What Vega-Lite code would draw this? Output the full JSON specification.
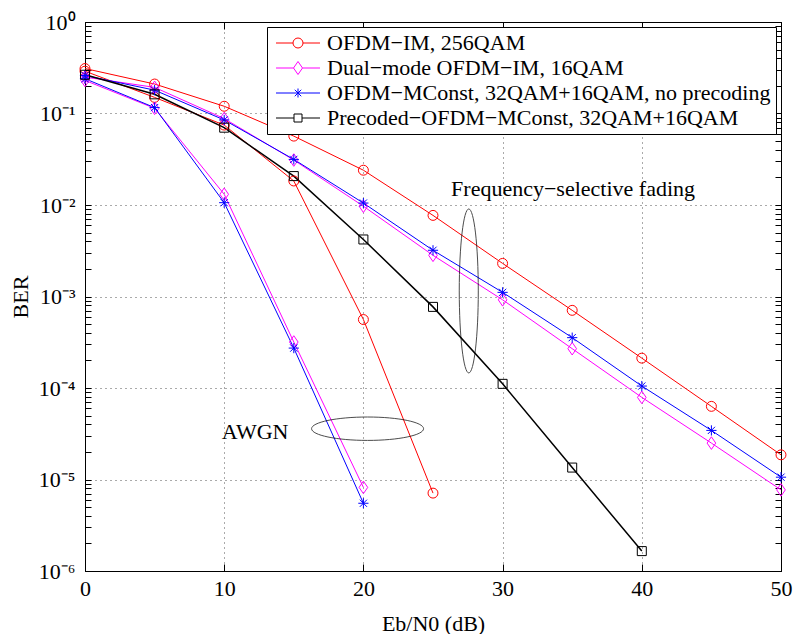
{
  "$schema": "https://vega.github.io/schema/vega-lite/v6.json",
  "width": 696,
  "height": 549,
  "autosize": {"type": "none"},
  "padding": {"left": 85, "top": 22, "right": 16, "bottom": 63},
  "background": "white",
  "config": {
    "view": {"stroke": "black", "strokeWidth": 1},
    "font": "Liberation Serif",
    "axis": {
      "labelFont": "Liberation Serif", "labelFontSize": 22, "labelColor": "black",
      "titleFont": "Liberation Serif", "titleFontSize": 22, "titleFontWeight": "normal", "titleColor": "black",
      "domainColor": "black", "tickColor": "black", "gridColor": "#555", "gridDash": [1, 4], "gridWidth": 1
    },
    "legend": {
      "orient": "top-right", "offset": 5,
      "labelFont": "Liberation Serif", "labelFontSize": 22, "labelColor": "black",
      "fillColor": "white", "strokeColor": "black", "padding": 5, "rowPadding": 3,
      "symbolSize": 100, "symbolOffset": 15, "labelOffset": 18, "symbolStrokeWidth": 1, "labelLimit": 0
    }
  },
  "datasets": {
    "curves": [
      {"series": "OFDM−IM, 256QAM", "channel": "fading", "snr": 0, "ber": 0.31},
      {"series": "OFDM−IM, 256QAM", "channel": "fading", "snr": 5, "ber": 0.21},
      {"series": "OFDM−IM, 256QAM", "channel": "fading", "snr": 10, "ber": 0.12},
      {"series": "OFDM−IM, 256QAM", "channel": "fading", "snr": 15, "ber": 0.0566},
      {"series": "OFDM−IM, 256QAM", "channel": "fading", "snr": 20, "ber": 0.024},
      {"series": "OFDM−IM, 256QAM", "channel": "fading", "snr": 25, "ber": 0.0077},
      {"series": "OFDM−IM, 256QAM", "channel": "fading", "snr": 30, "ber": 0.0023},
      {"series": "OFDM−IM, 256QAM", "channel": "fading", "snr": 35, "ber": 0.000706},
      {"series": "OFDM−IM, 256QAM", "channel": "fading", "snr": 40, "ber": 0.000212},
      {"series": "OFDM−IM, 256QAM", "channel": "fading", "snr": 45, "ber": 0.000063},
      {"series": "OFDM−IM, 256QAM", "channel": "fading", "snr": 50, "ber": 0.0000186},
      {"series": "OFDM−IM, 256QAM", "channel": "awgn", "snr": 0, "ber": 0.29},
      {"series": "OFDM−IM, 256QAM", "channel": "awgn", "snr": 5, "ber": 0.15},
      {"series": "OFDM−IM, 256QAM", "channel": "awgn", "snr": 10, "ber": 0.0747},
      {"series": "OFDM−IM, 256QAM", "channel": "awgn", "snr": 15, "ber": 0.0183},
      {"series": "OFDM−IM, 256QAM", "channel": "awgn", "snr": 20, "ber": 0.00056},
      {"series": "OFDM−IM, 256QAM", "channel": "awgn", "snr": 25, "ber": 0.0000071},
      {"series": "Dual−mode OFDM−IM, 16QAM", "channel": "fading", "snr": 0, "ber": 0.25},
      {"series": "Dual−mode OFDM−IM, 16QAM", "channel": "fading", "snr": 5, "ber": 0.193},
      {"series": "Dual−mode OFDM−IM, 16QAM", "channel": "fading", "snr": 10, "ber": 0.088},
      {"series": "Dual−mode OFDM−IM, 16QAM", "channel": "fading", "snr": 15, "ber": 0.031},
      {"series": "Dual−mode OFDM−IM, 16QAM", "channel": "fading", "snr": 20, "ber": 0.0097},
      {"series": "Dual−mode OFDM−IM, 16QAM", "channel": "fading", "snr": 25, "ber": 0.00282},
      {"series": "Dual−mode OFDM−IM, 16QAM", "channel": "fading", "snr": 30, "ber": 0.00092},
      {"series": "Dual−mode OFDM−IM, 16QAM", "channel": "fading", "snr": 35, "ber": 0.000269},
      {"series": "Dual−mode OFDM−IM, 16QAM", "channel": "fading", "snr": 40, "ber": 0.000079},
      {"series": "Dual−mode OFDM−IM, 16QAM", "channel": "fading", "snr": 45, "ber": 0.000025},
      {"series": "Dual−mode OFDM−IM, 16QAM", "channel": "fading", "snr": 50, "ber": 0.0000077},
      {"series": "Dual−mode OFDM−IM, 16QAM", "channel": "awgn", "snr": 0, "ber": 0.23},
      {"series": "Dual−mode OFDM−IM, 16QAM", "channel": "awgn", "snr": 5, "ber": 0.114},
      {"series": "Dual−mode OFDM−IM, 16QAM", "channel": "awgn", "snr": 10, "ber": 0.0131},
      {"series": "Dual−mode OFDM−IM, 16QAM", "channel": "awgn", "snr": 15, "ber": 0.000318},
      {"series": "Dual−mode OFDM−IM, 16QAM", "channel": "awgn", "snr": 20, "ber": 0.0000082},
      {"series": "OFDM−MConst, 32QAM+16QAM, no precoding", "channel": "fading", "snr": 0, "ber": 0.26},
      {"series": "OFDM−MConst, 32QAM+16QAM, no precoding", "channel": "fading", "snr": 5, "ber": 0.18},
      {"series": "OFDM−MConst, 32QAM+16QAM, no precoding", "channel": "fading", "snr": 10, "ber": 0.085},
      {"series": "OFDM−MConst, 32QAM+16QAM, no precoding", "channel": "fading", "snr": 15, "ber": 0.0315},
      {"series": "OFDM−MConst, 32QAM+16QAM, no precoding", "channel": "fading", "snr": 20, "ber": 0.0105},
      {"series": "OFDM−MConst, 32QAM+16QAM, no precoding", "channel": "fading", "snr": 25, "ber": 0.0032},
      {"series": "OFDM−MConst, 32QAM+16QAM, no precoding", "channel": "fading", "snr": 30, "ber": 0.00111},
      {"series": "OFDM−MConst, 32QAM+16QAM, no precoding", "channel": "fading", "snr": 35, "ber": 0.000355},
      {"series": "OFDM−MConst, 32QAM+16QAM, no precoding", "channel": "fading", "snr": 40, "ber": 0.000105},
      {"series": "OFDM−MConst, 32QAM+16QAM, no precoding", "channel": "fading", "snr": 45, "ber": 0.0000344},
      {"series": "OFDM−MConst, 32QAM+16QAM, no precoding", "channel": "fading", "snr": 50, "ber": 0.0000106},
      {"series": "OFDM−MConst, 32QAM+16QAM, no precoding", "channel": "awgn", "snr": 0, "ber": 0.24},
      {"series": "OFDM−MConst, 32QAM+16QAM, no precoding", "channel": "awgn", "snr": 5, "ber": 0.116},
      {"series": "OFDM−MConst, 32QAM+16QAM, no precoding", "channel": "awgn", "snr": 10, "ber": 0.0106},
      {"series": "OFDM−MConst, 32QAM+16QAM, no precoding", "channel": "awgn", "snr": 15, "ber": 0.000273},
      {"series": "OFDM−MConst, 32QAM+16QAM, no precoding", "channel": "awgn", "snr": 20, "ber": 0.0000055},
      {"series": "Precoded−OFDM−MConst, 32QAM+16QAM", "channel": "fading", "snr": 0, "ber": 0.265},
      {"series": "Precoded−OFDM−MConst, 32QAM+16QAM", "channel": "fading", "snr": 5, "ber": 0.162},
      {"series": "Precoded−OFDM−MConst, 32QAM+16QAM", "channel": "fading", "snr": 10, "ber": 0.07},
      {"series": "Precoded−OFDM−MConst, 32QAM+16QAM", "channel": "fading", "snr": 15, "ber": 0.0207},
      {"series": "Precoded−OFDM−MConst, 32QAM+16QAM", "channel": "fading", "snr": 20, "ber": 0.0042},
      {"series": "Precoded−OFDM−MConst, 32QAM+16QAM", "channel": "fading", "snr": 25, "ber": 0.00077},
      {"series": "Precoded−OFDM−MConst, 32QAM+16QAM", "channel": "fading", "snr": 30, "ber": 0.000111},
      {"series": "Precoded−OFDM−MConst, 32QAM+16QAM", "channel": "fading", "snr": 35, "ber": 0.0000135},
      {"series": "Precoded−OFDM−MConst, 32QAM+16QAM", "channel": "fading", "snr": 40, "ber": 0.00000165}
    ]
  },
  "layer": [
    {
      "data": {"name": "curves"},
      "mark": {"type": "line", "clip": true},
      "encoding": {
        "x": {"field": "snr", "type": "quantitative",
          "scale": {"domain": [0, 50], "nice": false, "zero": false},
          "axis": {"orient": "bottom", "values": [0, 10, 20, 30, 40, 50], "grid": true, "tickSize": -7,
            "labelPadding": 14, "labelFlush": false, "labelOverlap": false, "title": "Eb/N0 (dB)", "titlePadding": 14}},
        "y": {"field": "ber", "type": "quantitative",
          "scale": {"type": "log", "domain": [0.000001, 1], "nice": false},
          "axis": {"orient": "left",
            "values": [0.000001, 0.000002, 0.000003, 0.000004, 0.000005, 0.000006, 0.000007, 0.000008, 0.000009,
              0.00001, 0.00002, 0.00003, 0.00004, 0.00005, 0.00006, 0.00007, 0.00008, 0.00009,
              0.0001, 0.0002, 0.0003, 0.0004, 0.0005, 0.0006, 0.0007, 0.0008, 0.0009,
              0.001, 0.002, 0.003, 0.004, 0.005, 0.006, 0.007, 0.008, 0.009,
              0.01, 0.02, 0.03, 0.04, 0.05, 0.06, 0.07, 0.08, 0.09,
              0.1, 0.2, 0.3, 0.4, 0.5, 0.6, 0.7, 0.8, 0.9, 1],
            "labelExpr": "abs(log(datum.value)/LN10 - round(log(datum.value)/LN10)) < 0.001 ? (round(log(datum.value)/LN10) == 0 ? '10⁰' : '10⁻' + ['','¹','²','³','⁴','⁵','⁶'][-round(log(datum.value)/LN10)]) : ''",
            "gridOpacity": {"condition": {"test": "abs(log(datum.value)/LN10 - round(log(datum.value)/LN10)) < 0.001", "value": 1}, "value": 0},
            "grid": true, "tickSize": -6, "labelPadding": 16, "labelOverlap": false, "labelBound": false,
            "title": "BER", "titlePadding": 6}},
        "color": {"field": "series", "type": "nominal",
          "scale": {"domain": ["OFDM−IM, 256QAM", "Dual−mode OFDM−IM, 16QAM", "OFDM−MConst, 32QAM+16QAM, no precoding", "Precoded−OFDM−MConst, 32QAM+16QAM"],
            "range": ["#ff0000", "#ff00ff", "#0000ff", "#000000"]},
          "legend": {"title": null, "symbolType": "M-4.4,0H4.4", "encode": {"symbols": {"update": {"shape": {"signal": "['M-4.4,0H-1M1,0H4.4M-1,0A1,1 0 1,0 1,0A1,1 0 1,0 -1,0','M-4.4,0H-0.9M0.9,0H4.4M0,-1.3L0.9,0L0,1.3L-0.9,0Z','M-4.4,0H4.4M0,-0.9V0.9M-0.65,-0.65L0.65,0.65M-0.65,0.65L0.65,-0.65','M-4.4,0H-0.8M0.8,0H4.4M-0.8,-0.8H0.8V0.8H-0.8Z'][indexof(['OFDM−IM, 256QAM','Dual−mode OFDM−IM, 16QAM','OFDM−MConst, 32QAM+16QAM, no precoding','Precoded−OFDM−MConst, 32QAM+16QAM'], datum.value)]"}, "fill": {"value": "transparent"}, "strokeWidth": {"value": 1}}}}}},
        "detail": {"field": "channel"},
        "strokeWidth": {"condition": {"test": "datum.series == 'Precoded−OFDM−MConst, 32QAM+16QAM'", "value": 1.5}, "value": 1}
      }
    },
    {
      "data": {"name": "curves"},
      "mark": {"type": "point", "filled": false, "size": 144, "strokeWidth": 1, "opacity": 1},
      "encoding": {
        "x": {"field": "snr", "type": "quantitative",
          "axis": {"orient": "top", "values": [0, 10, 20, 30, 40, 50], "grid": false, "labels": false, "tickSize": -7, "title": null}},
        "y": {"field": "ber", "type": "quantitative",
          "axis": {"orient": "right",
            "values": [0.000001, 0.000002, 0.000003, 0.000004, 0.000005, 0.000006, 0.000007, 0.000008, 0.000009,
              0.00001, 0.00002, 0.00003, 0.00004, 0.00005, 0.00006, 0.00007, 0.00008, 0.00009,
              0.0001, 0.0002, 0.0003, 0.0004, 0.0005, 0.0006, 0.0007, 0.0008, 0.0009,
              0.001, 0.002, 0.003, 0.004, 0.005, 0.006, 0.007, 0.008, 0.009,
              0.01, 0.02, 0.03, 0.04, 0.05, 0.06, 0.07, 0.08, 0.09,
              0.1, 0.2, 0.3, 0.4, 0.5, 0.6, 0.7, 0.8, 0.9, 1],
            "grid": false, "labels": false, "tickSize": -6, "title": null}},
        "color": {"field": "series", "type": "nominal",
          "scale": {"domain": ["OFDM−IM, 256QAM", "Dual−mode OFDM−IM, 16QAM", "OFDM−MConst, 32QAM+16QAM, no precoding", "Precoded−OFDM−MConst, 32QAM+16QAM"],
            "range": ["#ff0000", "#ff00ff", "#0000ff", "#000000"]},
          "legend": null},
        "shape": {"field": "series", "type": "nominal",
          "scale": {"domain": ["OFDM−IM, 256QAM", "Dual−mode OFDM−IM, 16QAM", "OFDM−MConst, 32QAM+16QAM, no precoding", "Precoded−OFDM−MConst, 32QAM+16QAM"],
            "range": ["M-0.83,0A0.83,0.83 0 1,0 0.83,0A0.83,0.83 0 1,0 -0.83,0", "M0,-1.05L0.72,0L0,1.05L-0.72,0Z", "M0,-0.85V0.85M-0.85,0H0.85M-0.6,-0.6L0.6,0.6M-0.6,0.6L0.6,-0.6", "M-0.75,-0.75H0.75V0.75H-0.75Z"]},
          "legend": null}
      }
    },
    {
      "data": {"values": [{"label": "Frequency−selective fading", "snr": 26.3, "ber": 0.0149}, {"label": "AWGN", "snr": 9.83, "ber": 0.0000327}]},
      "mark": {"type": "text", "align": "left", "baseline": "middle", "font": "Liberation Serif", "fontSize": 22, "color": "black"},
      "encoding": {
        "x": {"field": "snr", "type": "quantitative", "axis": null},
        "y": {"field": "ber", "type": "quantitative", "axis": null},
        "text": {"field": "label"}
      }
    },
    {
      "data": {"values": [{"snr": 27.57, "ber": 0.00115}]},
      "mark": {"type": "point", "filled": false, "stroke": "black", "strokeWidth": 1, "size": 26896,
        "shape": "M0,-1A0.116,1 0 1,1 0,1A0.116,1 0 1,1 0,-1"},
      "encoding": {
        "x": {"field": "snr", "type": "quantitative", "axis": null},
        "y": {"field": "ber", "type": "quantitative", "axis": null}
      }
    },
    {
      "data": {"values": [{"snr": 20.3, "ber": 0.0000359}]},
      "mark": {"type": "point", "filled": false, "stroke": "black", "strokeWidth": 1, "size": 12544,
        "shape": "M-1,0A1,0.209 0 1,1 1,0A1,0.209 0 1,1 -1,0"},
      "encoding": {
        "x": {"field": "snr", "type": "quantitative", "axis": null},
        "y": {"field": "ber", "type": "quantitative", "axis": null}
      }
    }
  ],
  "resolve": {"axis": {"x": "independent", "y": "independent"}, "scale": {"color": "independent"}}
}
